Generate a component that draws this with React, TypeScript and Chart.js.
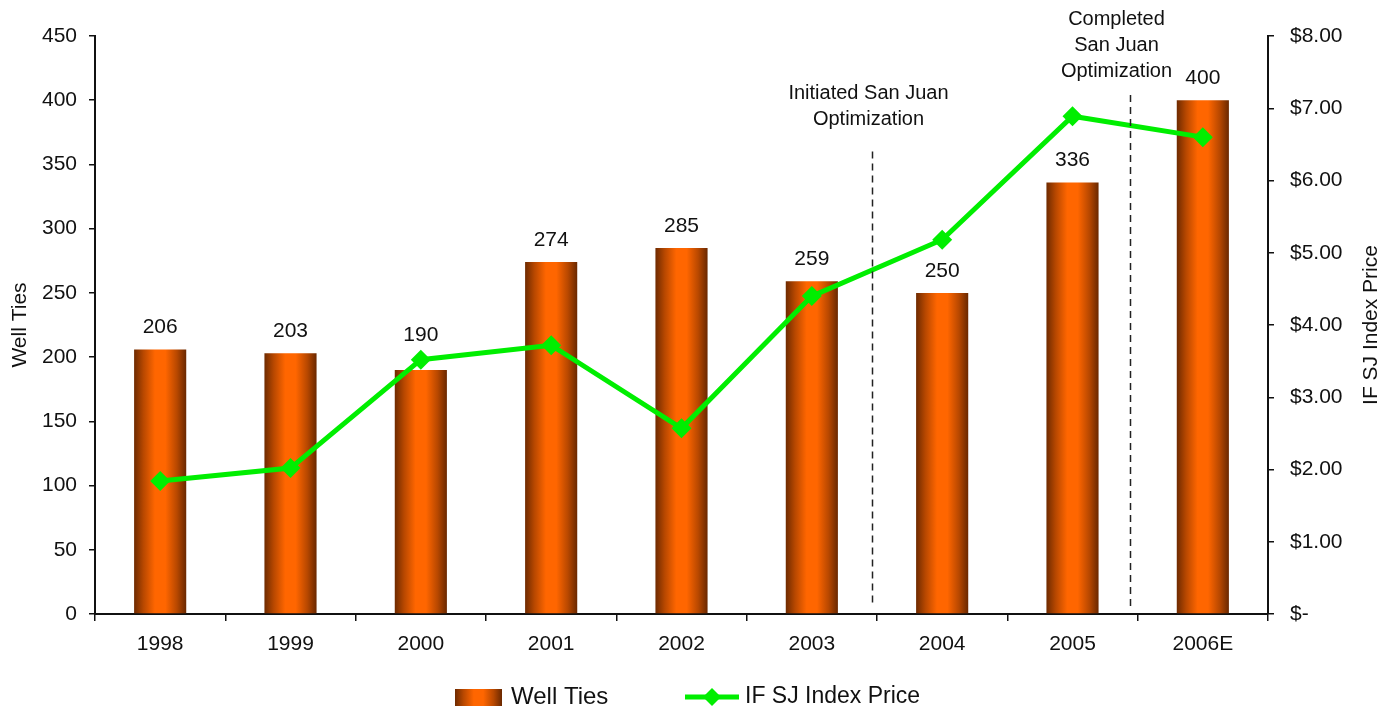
import React, { useEffect, useRef } from "react";
import { Chart, registerables } from "chart.js";

Chart.register(...registerables);

const categories = ["1998", "1999", "2000", "2001", "2002", "2003", "2004", "2005", "2006E"];
const wellTies = [206, 203, 190, 274, 285, 259, 250, 336, 400];
const indexPrice = [1.84, 2.02, 3.52, 3.72, 2.57, 4.40, 5.18, 6.89, 6.60];
const leftTicksMax = 450;
const rightTicksMax = 8;
const annotationTexts = [
  ["Initiated San Juan", "Optimization"],
  ["Completed", "San Juan", "Optimization"],
];

const FONT = "'Liberation Sans', Arial, sans-serif";
const GREEN = "#00ee00";
const BAR_PCT = 0.4;

// layout of the annotation markers (category units / axis values)
const annotationLayout = [
  { at: 5.46, fromValue: 360, gap: 32, dx: 0 },
  { at: 7.44, fromValue: 404, gap: 24, dx: -10 },
];

function barGradient(ctx: CanvasRenderingContext2D, x0: number, x1: number) {
  const g = ctx.createLinearGradient(x0, 0, x1, 0);
  g.addColorStop(0, "#6e2a00");
  g.addColorStop(0.18, "#b84800");
  g.addColorStop(0.4, "#ff6600");
  g.addColorStop(0.6, "#ff6600");
  g.addColorStop(0.82, "#b84800");
  g.addColorStop(1, "#6a2800");
  return g;
}

const overlayPlugin = {
  id: "overlay",
  afterDatasetsDraw(chart: any) {
    const { ctx, scales, chartArea } = chart;
    const x = scales.x;
    const y = scales.y;
    const y1 = scales.y1;
    ctx.save();
    // data labels (lifted above the price marker when they would collide)
    ctx.font = `21px ${FONT}`;
    ctx.fillStyle = "#111";
    ctx.textAlign = "center";
    ctx.textBaseline = "middle";
    wellTies.forEach((v, i) => {
      let ly = y.getPixelForValue(v) - 22;
      const my = y1.getPixelForValue(indexPrice[i]);
      if (Math.abs(ly - my) < 22) ly = my - 24;
      ctx.fillText(String(v), x.getPixelForValue(i), ly);
    });
    // dashed lines + annotation text
    annotationLayout.forEach((a, idx) => {
      const px = Math.round(x.getPixelForValue(a.at)) + 0.5;
      const top = y.getPixelForValue(a.fromValue);
      ctx.beginPath();
      ctx.setLineDash([7, 5]);
      ctx.lineWidth = 1.5;
      ctx.strokeStyle = "#222";
      ctx.moveTo(px, top);
      ctx.lineTo(px, chartArea.bottom - 8);
      ctx.stroke();
      ctx.setLineDash([]);
      const lines = annotationTexts[idx];
      const n = lines.length;
      const lh = 26;
      const textBottom = top - a.gap;
      ctx.font = `20px ${FONT}`;
      lines.forEach((t, k) => {
        ctx.fillStyle = "#111";
        ctx.fillText(t, px - 4 + a.dx, textBottom - (n - 1 - k) * lh);
      });
    });
    ctx.restore();
  },
  afterDraw(chart: any) {
    const { ctx, chartArea } = chart;
    ctx.save();
    // axis titles
    ctx.font = `21px ${FONT}`;
    ctx.fillStyle = "#111";
    ctx.textAlign = "center";
    ctx.textBaseline = "middle";
    const cy = (chartArea.top + chartArea.bottom) / 2;
    ctx.save();
    ctx.translate(20, cy);
    ctx.rotate(-Math.PI / 2);
    ctx.fillText("Well Ties", 0, 0);
    ctx.restore();
    ctx.save();
    ctx.translate(1371, cy);
    ctx.rotate(-Math.PI / 2);
    ctx.fillText("IF SJ Index Price", 0, 0);
    ctx.restore();
    // legend
    const ly = 697;
    ctx.fillStyle = barGradient(ctx, 455, 502);
    ctx.fillRect(455, 689, 47, 17);
    ctx.font = `24px ${FONT}`;
    ctx.fillStyle = "#111";
    ctx.textAlign = "left";
    ctx.fillText("Well Ties", 511, ly);
    ctx.beginPath();
    ctx.strokeStyle = GREEN;
    ctx.lineWidth = 5;
    ctx.moveTo(685, ly);
    ctx.lineTo(739, ly);
    ctx.stroke();
    ctx.beginPath();
    ctx.fillStyle = GREEN;
    const r = 9;
    ctx.moveTo(712, ly - r);
    ctx.lineTo(712 + r, ly);
    ctx.lineTo(712, ly + r);
    ctx.lineTo(712 - r, ly);
    ctx.closePath();
    ctx.fill();
    ctx.fillStyle = "#111";
    ctx.font = `23px ${FONT}`;
    ctx.fillText("IF SJ Index Price", 745, ly);
    ctx.restore();
  },
};

export default function App() {
  const ref = useRef<HTMLCanvasElement>(null);
  useEffect(() => {
    document.body.style.margin = "0";
    const canvas = ref.current!;
    const chart = new Chart(canvas, {
      type: "bar",
      data: {
        labels: categories,
        datasets: [
          {
            type: "line",
            label: "IF SJ Index Price",
            data: indexPrice,
            yAxisID: "y1",
            borderColor: GREEN,
            backgroundColor: GREEN,
            borderWidth: 5,
            pointStyle: "rectRot",
            pointRadius: 10,
            pointBorderWidth: 0,
            pointBackgroundColor: GREEN,
            tension: 0,
            order: 0,
          },
          {
            type: "bar",
            label: "Well Ties",
            data: wellTies,
            yAxisID: "y",
            barPercentage: BAR_PCT,
            categoryPercentage: 1,
            backgroundColor: (c: any) => {
              const ch = c.chart;
              const area = ch.chartArea;
              if (!area || c.dataIndex === undefined) return "#ff6600";
              const cx = ch.scales.x.getPixelForValue(c.dataIndex);
              const w = (area.width / categories.length) * BAR_PCT;
              return barGradient(ch.ctx, cx - w / 2, cx + w / 2);
            },
            order: 1,
          },
        ] as any,
      },
      options: {
        responsive: false,
        maintainAspectRatio: false,
        animation: false,
        layout: { padding: { top: 36, left: 0, right: 0, bottom: 0 } },
        plugins: { legend: { display: false }, tooltip: { enabled: false } },
        scales: {
          x: {
            offset: true,
            grid: { display: true, drawOnChartArea: false, drawTicks: true, tickLength: 7, color: "#111", lineWidth: 1.5, offset: true },
            border: { display: true, color: "#111", width: 2 },
            ticks: { color: "#111", font: { size: 21, family: FONT }, padding: 11 },
            afterFit: (s: any) => { s.height = 98; },
          },
          y: {
            position: "left",
            min: 0,
            max: leftTicksMax,
            ticks: { stepSize: 50, color: "#111", font: { size: 21, family: FONT }, padding: 12 },
            grid: { display: true, drawOnChartArea: false, drawTicks: true, tickLength: 6, color: "#111", lineWidth: 1.5 },
            border: { display: true, color: "#111", width: 2 },
            afterFit: (s: any) => { s.width = 95; },
          },
          y1: {
            position: "right",
            min: 0,
            max: rightTicksMax,
            ticks: {
              stepSize: 1,
              color: "#111",
              font: { size: 21, family: FONT },
              padding: 16,
              callback: (v: any) => (Number(v) === 0 ? "$-" : "$" + Number(v).toFixed(2)),
            },
            grid: { display: true, drawOnChartArea: false, drawTicks: true, tickLength: 6, color: "#111", lineWidth: 1.5 },
            border: { display: true, color: "#111", width: 2 },
            afterFit: (s: any) => { s.width = 128; },
          },
        },
      },
      plugins: [overlayPlugin],
    });
    return () => chart.destroy();
  }, []);
  return (
    <div style={{ width: 1396, height: 712, background: "#fff" }}>
      <canvas ref={ref} width={1396} height={712} style={{ display: "block" }} />
    </div>
  );
}
